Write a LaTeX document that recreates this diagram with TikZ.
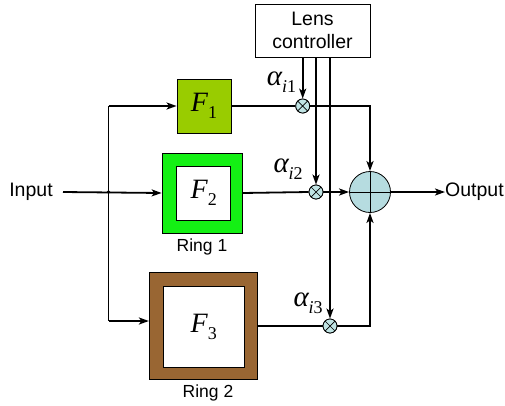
\documentclass[tikz,border=0pt]{standalone}
\usepackage{fontspec}
\setmainfont{Liberation Sans}
\newfontfamily\tms{Liberation Serif}
\usetikzlibrary{arrows.meta}
\definecolor{fonegreen}{RGB}{153,204,0}
\definecolor{ringgreen}{RGB}{20,240,20}
\definecolor{ringbrown}{RGB}{153,102,51}
\definecolor{multfill}{RGB}{192,228,228}
\definecolor{sumfill}{RGB}{182,220,224}
\newcommand\fsym[1]{{\fontsize{28}{30}\tms\itshape F}\raisebox{-7pt}{\fontsize{18}{18}\tms #1}}
\newcommand\asym[1]{{\fontsize{29}{30}\tms\itshape α}\raisebox{-7pt}{\fontsize{18}{18}\tms{\itshape i}#1}}
\begin{document}
\begin{tikzpicture}[x=1pt,y=-1pt,
  sanstext/.style={font=\fontsize{19.5}{23}\selectfont, inner sep=0pt},
  ringtext/.style={font=\fontsize{17.5}{20}\selectfont, inner sep=0pt},
  boxstyle/.style={draw=black, line width=0.8pt, inner sep=0pt, rectangle},
  wire/.style={line width=1.8pt, black},
  arrowwire/.style={wire, -{Stealth[length=10pt,width=7pt,inset=2.5pt]}},
  multnode/.style={circle, draw=black, line width=0.8pt, fill=multfill, minimum size=14pt, inner sep=0pt,
    path picture={\draw[line width=0.7pt] (path picture bounding box.north west) -- (path picture bounding box.south east)
      (path picture bounding box.north east) -- (path picture bounding box.south west);}},
  sumnode/.style={circle, draw=black, line width=0.8pt, fill=sumfill, minimum size=41pt, inner sep=0pt,
    path picture={\draw[line width=0.8pt] (path picture bounding box.north) -- (path picture bounding box.south)
      (path picture bounding box.east) -- (path picture bounding box.west);}},
  alabel/.style={anchor=base west, inner sep=0pt}
]
\useasboundingbox (0,0) rectangle (505,405);

% controller
\node[boxstyle, minimum width=115pt, minimum height=53pt, align=center, font=\fontsize{19.5}{23}\selectfont] (lc) at (312.5,30.5) {Lens\\controller};

% filters
\node[boxstyle, fill=fonegreen, minimum width=54pt, minimum height=54pt] (f1) at (204,106) {\fsym{1}};
\node[boxstyle, fill=ringgreen, minimum width=80pt, minimum height=80pt] (r1) at (202,193) {};
\node[boxstyle, fill=white, minimum width=54pt, minimum height=54pt] (f2) at (203.7,193.3) {\fsym{2}};
\node[boxstyle, fill=ringbrown, minimum width=108pt, minimum height=107pt] (r2) at (203.3,326) {};
\node[boxstyle, fill=white, minimum width=80.7pt, minimum height=81.3pt] (f3) at (203.7,326.7) {\fsym{3}};

\node[ringtext] (rl1) at (202,246.5) {Ring 1};
\node[ringtext] (rl2) at (208,393) {Ring 2};

% multipliers and sum
\node[multnode] (m1) at (302.7,106) {};
\node[multnode] (m2) at (316,192) {};
\node[multnode] (m3) at (330,326) {};
\node[sumnode] (sum) at (370,192) {};

% texts
\node[sanstext] (inp) at (31,192) {Input};
\node[sanstext, anchor=west] (outp) at (445,192) {Output};
\node[alabel] (a1) at (266.7,85) {\asym{1}};
\node[alabel] (a2) at (273.3,172.7) {\asym{2}};
\node[alabel] (a3) at (293.3,306.7) {\asym{3}};

% coordinates
\coordinate (instart) at (63,192);
\coordinate (jt) at (108.5,106);
\coordinate (jb) at (108.5,321);
\coordinate (jm) at (108.5,192);
\coordinate (c1) at (sum |- m1);
\coordinate (c3) at (sum |- m3);
\coordinate (f3in) at (r2.west |- jb);
\coordinate (f3out) at (r2.east |- m3);

% input distribution
\draw[arrowwire] (instart) -- (r1.west);
\draw[wire] (jt) -- (jb);
\draw[arrowwire] (jt) -- (f1.west);
\draw[arrowwire] (jb) -- (f3in);
\fill (jm) circle (1.8pt);

% controller lines
\draw[arrowwire] (lc.south -| m1) -- (m1.north);
\draw[arrowwire] (lc.south -| m2) -- (m2.north);
\draw[arrowwire] (lc.south -| m3) -- (m3.north);

% outputs
\draw[wire] (f1.east) -- (m1.west);
\draw[arrowwire] (m1.east) -- (c1) -- (sum.north);
\draw[wire] (r1.east) -- (m2.west);
\draw[arrowwire] (m2.east) -- (sum.west);
\draw[wire] (f3out) -- (m3.west);
\draw[arrowwire] (m3.east) -- (c3) -- (sum.south);
\draw[arrowwire] (sum.east) -- (outp.west);

% redraw nodes above wires
\node[multnode] at (m1) {};
\node[multnode] at (m2) {};
\node[multnode] at (m3) {};
\end{tikzpicture}
\end{document}
